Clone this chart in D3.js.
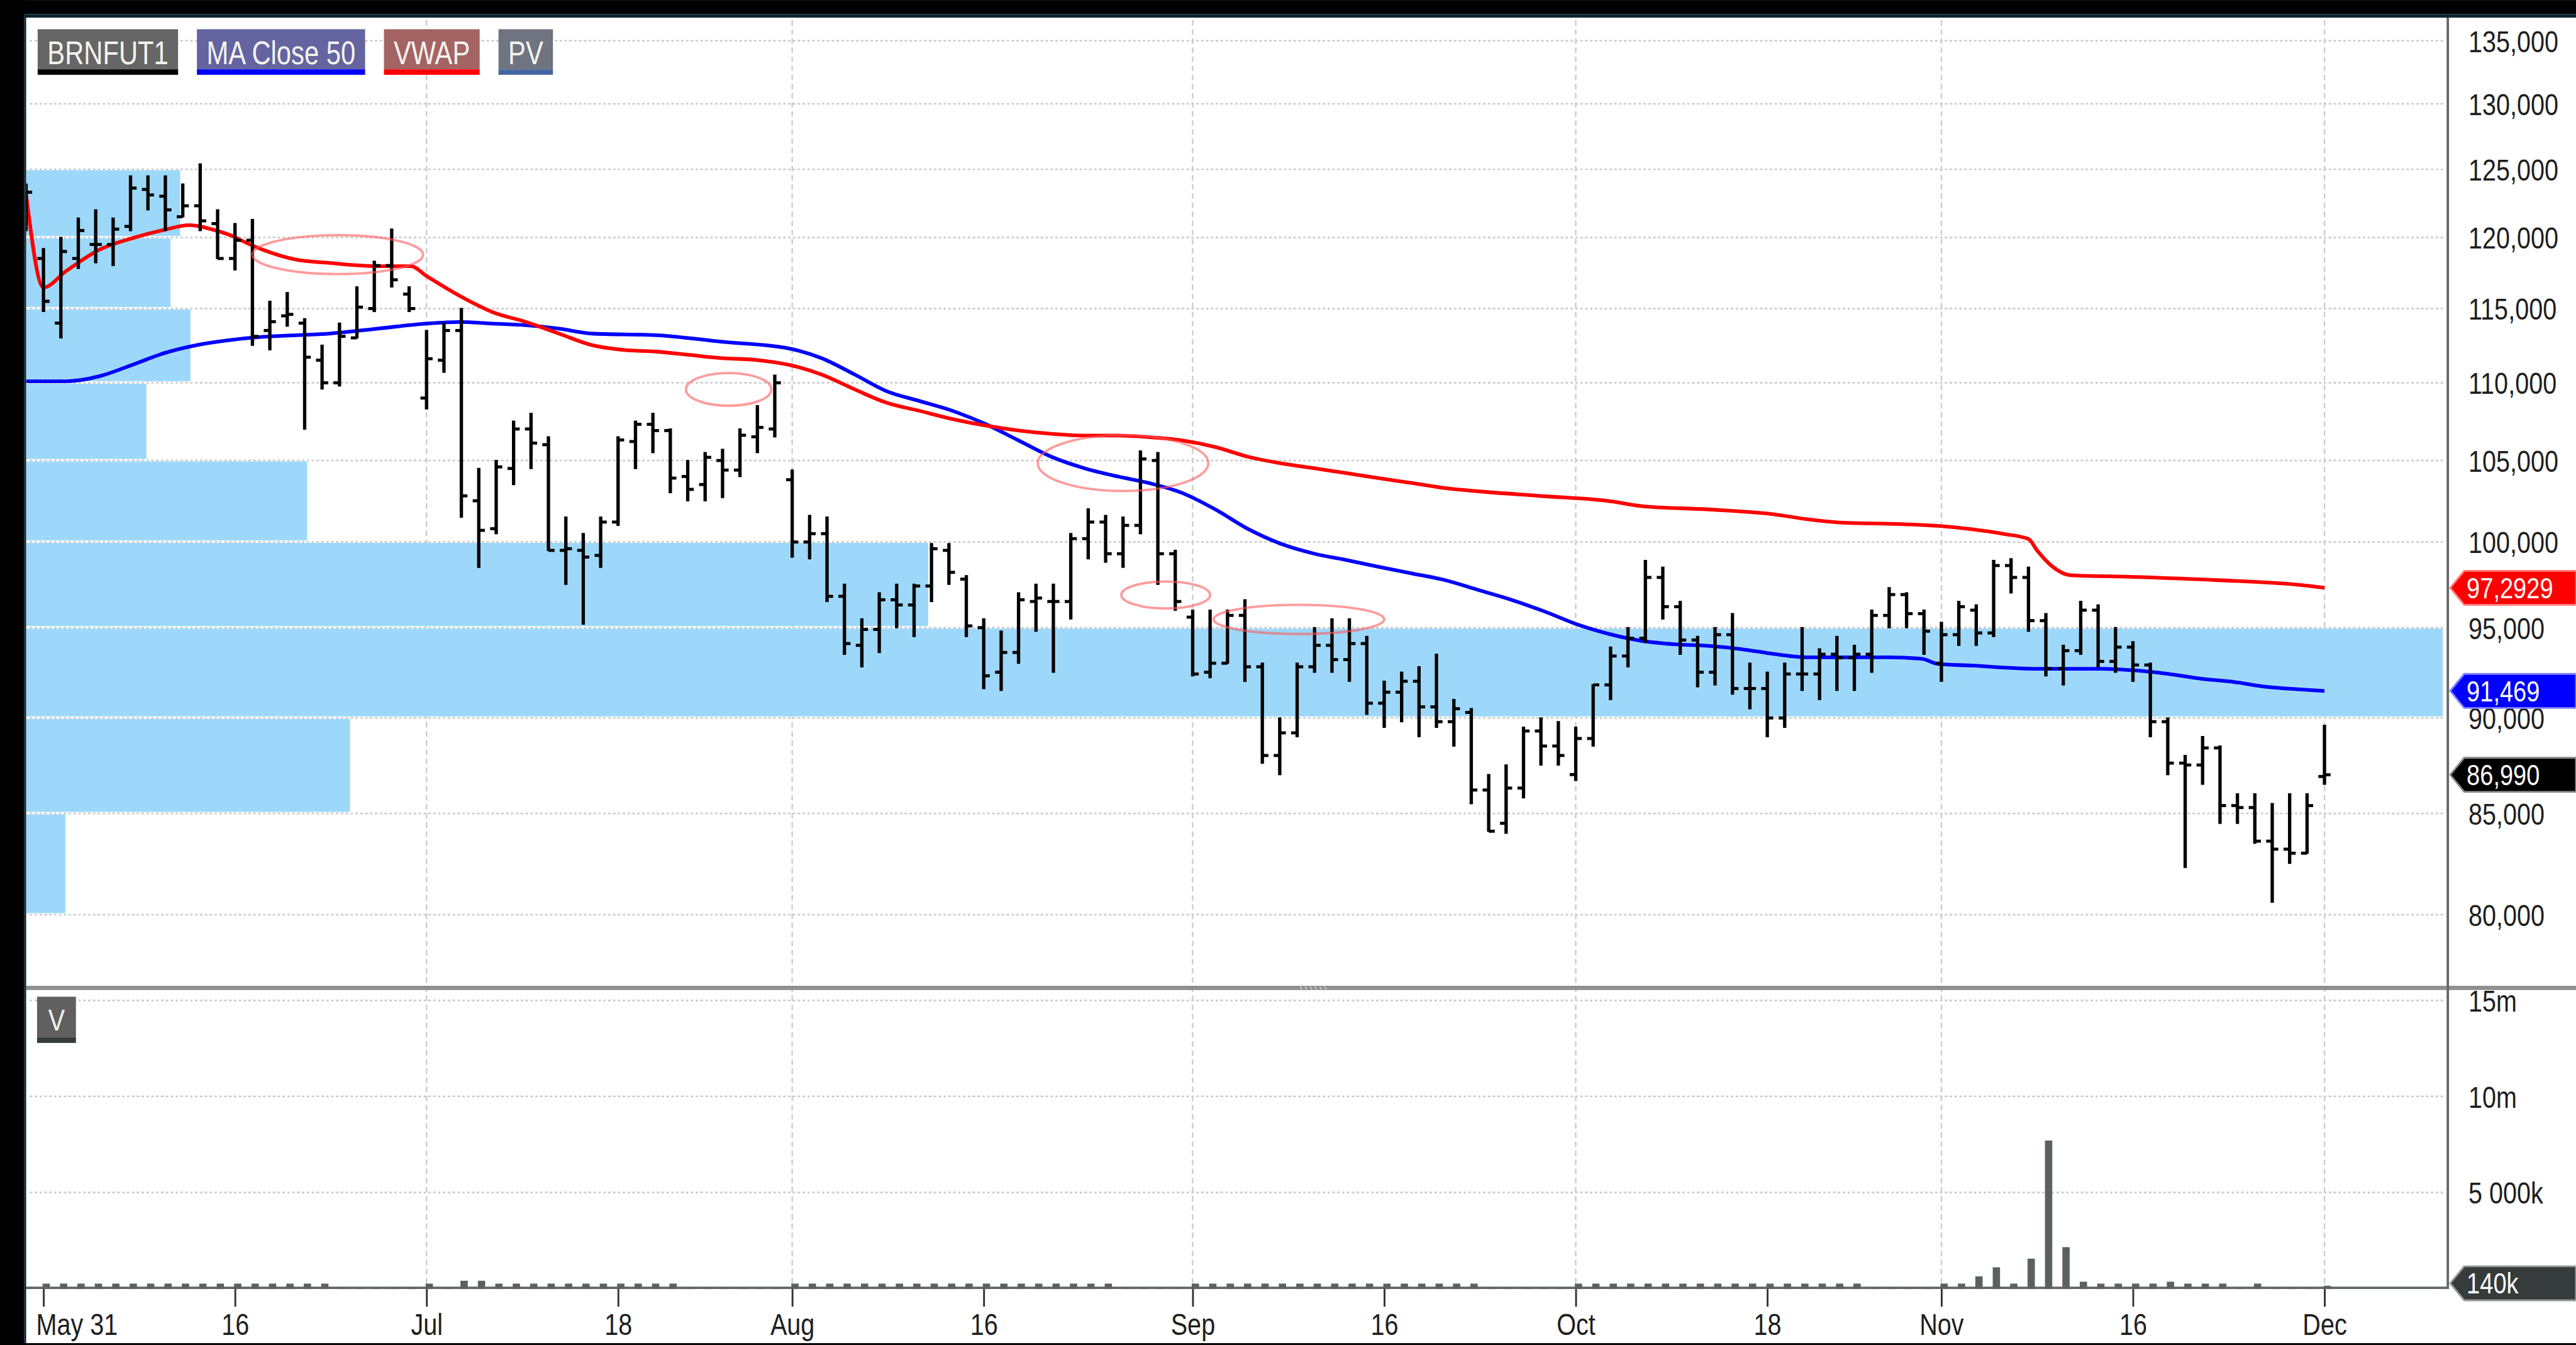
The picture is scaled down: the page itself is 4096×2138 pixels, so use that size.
<!DOCTYPE html>
<html><head><meta charset="utf-8">
<script src="https://cdn.jsdelivr.net/npm/d3@7/dist/d3.min.js"></script>
<style>html,body{margin:0;padding:0;background:#fff;overflow:hidden;}svg{display:block}</style>
</head><body>
<script>
// ---------------- DATA ----------------
const dates = ["2022-05-30","2022-05-31",
"2022-06-01","2022-06-02","2022-06-06","2022-06-07","2022-06-08","2022-06-09","2022-06-10","2022-06-13","2022-06-14","2022-06-15","2022-06-16","2022-06-17","2022-06-20","2022-06-21","2022-06-22","2022-06-23","2022-06-24","2022-06-27","2022-06-28","2022-06-29","2022-06-30",
"2022-07-01","2022-07-04","2022-07-05","2022-07-06","2022-07-07","2022-07-08","2022-07-11","2022-07-12","2022-07-13","2022-07-14","2022-07-15","2022-07-18","2022-07-19","2022-07-20","2022-07-21","2022-07-22","2022-07-25","2022-07-26","2022-07-27","2022-07-28","2022-07-29",
"2022-08-01","2022-08-02","2022-08-03","2022-08-04","2022-08-05","2022-08-08","2022-08-09","2022-08-10","2022-08-11","2022-08-12","2022-08-15","2022-08-16","2022-08-17","2022-08-18","2022-08-19","2022-08-22","2022-08-23","2022-08-24","2022-08-25","2022-08-26","2022-08-29","2022-08-30","2022-08-31",
"2022-09-01","2022-09-02","2022-09-05","2022-09-06","2022-09-07","2022-09-08","2022-09-09","2022-09-12","2022-09-13","2022-09-14","2022-09-15","2022-09-16","2022-09-19","2022-09-20","2022-09-21","2022-09-22","2022-09-23","2022-09-26","2022-09-27","2022-09-28","2022-09-29","2022-09-30",
"2022-10-03","2022-10-04","2022-10-05","2022-10-06","2022-10-07","2022-10-10","2022-10-11","2022-10-12","2022-10-13","2022-10-14","2022-10-17","2022-10-18","2022-10-19","2022-10-20","2022-10-21","2022-10-24","2022-10-25","2022-10-26","2022-10-27","2022-10-28","2022-10-31",
"2022-11-01","2022-11-02","2022-11-03","2022-11-04","2022-11-07","2022-11-08","2022-11-09","2022-11-10","2022-11-11","2022-11-14","2022-11-15","2022-11-16","2022-11-17","2022-11-18","2022-11-21","2022-11-22","2022-11-23","2022-11-24","2022-11-25","2022-11-28","2022-11-29","2022-11-30",
"2022-12-01"];

const open = [121000,118500,114000,118500,119500,119500,120800,123500,123000,121500,
122300,121000,118500,119800,113500,114500,114000,111500,110000,113000,
115000,118000,116000,109000,111500,113500,102500,100800,104500,107000,
106000,99500,99500,99200,101200,106200,107300,106900,104000,103500,
105000,104400,106500,107000,103800,100000,100500,96800,94000,94900,
96600,96300,97400,99500,97800,95000,92500,93600,96500,96500,
96500,100200,101200,99300,101000,105000,99300,95600,92500,93000,
95700,92800,88000,89200,92800,94000,93200,94100,90800,91400,
92000,90600,89800,90300,86200,84500,86300,89300,88500,87000,
88900,91800,93400,94400,97900,96200,94300,92500,94600,91600,
91600,90000,92400,92400,93500,93300,93500,95700,96900,95800,
93000,94600,96000,94700,98600,97900,95400,92700,93700,96000,
93100,93900,92900,89800,87600,87500,88400,85400,85300,83600,
83200,83000,86900];
const high = [123900,119200,120000,121400,122000,121400,124500,124500,124500,123900,
125400,122000,121000,121300,115500,116100,114300,112500,114000,116500,
118300,120600,116500,113500,114000,115000,104500,105000,107500,108000,
106500,101500,100500,101500,106500,107500,108000,107000,105000,105500,
105700,107000,108500,110500,104400,101600,101500,97500,95500,97000,
97500,97500,99900,99900,98000,95500,94800,97000,97500,97500,
100500,102000,101600,101500,105600,105500,99500,96000,96000,96000,
96600,93000,90000,93000,95000,95500,95500,94500,92000,92500,
92800,93500,91000,90500,87000,87500,89500,90000,89800,89500,
91800,93900,95000,98900,98500,96500,94500,95000,95800,93000,
92500,93000,95000,93800,94500,94000,96000,97300,97000,96000,
95300,96500,96300,98900,99000,98500,95800,94000,96500,96300,
95000,94200,93000,90000,88000,89000,88500,86000,86000,85500,
86000,86000,89600];
const low = [120500,114800,113000,117800,118200,118000,120500,122000,120500,121500,
120500,118500,117700,112500,112200,113800,107000,109600,109800,113000,
114800,116500,114800,108300,110700,101500,98500,100500,103500,104500,
99500,97500,95200,98500,101000,104500,105500,103000,102500,102500,
102700,104000,105500,106500,99100,99000,96500,93500,92800,93600,
95000,94500,96500,97500,94500,91600,91500,93000,94800,92500,
95500,99000,98800,98500,100500,97500,96000,92300,92200,93000,
92000,87600,87000,89000,92500,92500,92000,90200,89500,89800,
89000,89500,88500,85500,84100,84000,85800,87500,87500,86700,
88500,91000,92800,94200,95500,93500,91700,91800,91300,90500,
89000,89500,91500,91000,91500,91500,92500,95000,95000,93500,
92000,94000,94000,94500,97000,94800,92300,91800,93500,92800,
92500,92000,89000,87000,82300,86500,84500,84500,83500,80600,
82500,83000,86500];
const close = [123300,115500,119000,120500,119500,120600,123600,123100,122000,122300,
121200,118500,119800,113100,114100,114600,111700,110000,113100,115100,
118000,117000,115000,111600,113500,102800,100700,104600,107000,106100,
99500,99600,99100,101200,106300,107300,106900,103900,103200,105200,
104400,106600,107100,110000,100000,100500,96800,94100,94900,96600,
96300,97400,99600,98200,95100,92300,93600,96600,96700,96500,
100200,101200,99300,101000,105100,99300,96500,92400,93000,95700,
92800,88000,89200,92800,94000,93200,94100,90800,91400,92000,
90600,89800,90500,86200,84100,86300,89300,88500,88000,88900,
91800,93400,94400,97900,96200,94300,92500,94600,91600,91600,
90000,92400,92400,93500,93300,93500,95700,96900,95800,94800,
94600,96200,94700,98600,97900,95400,92700,93700,96000,93100,
93900,92900,89800,87600,87500,88400,85400,85300,83600,83200,
83000,85400,86990];
const volume = [60000,250000,250000,250000,250000,250000,250000,250000,250000,250000,
250000,250000,250000,250000,250000,250000,250000,250000,60000,60000,
60000,60000,60000,250000,60000,400000,400000,250000,250000,250000,
250000,250000,250000,250000,250000,250000,250000,250000,60000,60000,
60000,60000,60000,60000,250000,250000,250000,250000,250000,250000,
250000,250000,250000,250000,250000,250000,250000,250000,250000,250000,
250000,250000,250000,60000,60000,60000,60000,250000,250000,250000,
250000,250000,250000,250000,250000,250000,250000,250000,250000,250000,
250000,250000,250000,250000,60000,60000,60000,60000,60000,250000,
250000,250000,250000,250000,250000,250000,250000,250000,250000,250000,
250000,250000,250000,250000,250000,250000,60000,60000,60000,60000,
250000,250000,630000,1100000,250000,1550000,7700000,2150000,350000,250000,
250000,250000,250000,350000,250000,250000,250000,60000,250000,60000,
60000,60000,140000];

// MA Close 50 (bar position, value)
const maPos = [0,2.3,4.2,6.1,7.9,9.8,11.7,13.6,15.5,17.4,20.2,23.0,24.9,26.8,28.7,30.6,32.5,36.2,40.0,43.8,45.7,47.6,49.4,51.3,53.2,55.1,57.0,58.9,60.8,62.7,64.5,66.4,68.3,70.2,72.1,74.0,75.9,77.7,79.6,81.5,83.4,85.3,87.2,89.1,91.0,92.8,94.7,96.6,98.5,100.4,102.3,107.0,108.9,109.8,111.7,115.5,119.3,121.1,123.0,124.9,126.8,128.7,130.6,132];
const maVal = [110100,110100,110430,111190,111960,112510,112850,113070,113180,113290,113630,113970,114080,113970,113860,113630,113290,113180,112730,112290,111630,110540,109460,108810,108170,107320,106270,105230,104510,104000,103590,102980,101970,100770,99880,99300,98910,98520,98130,97740,97170,96600,95930,95180,94620,94250,94060,93970,93790,93510,93330,93330,93240,92960,92870,92690,92690,92600,92410,92140,91960,91690,91550,91469];
// VWAP
const vwapPos = [0,1,2.3,4.2,6.1,7.9,9.4,10.8,11.7,12.7,13.6,15.5,17.4,20.2,22.1,23.0,24.9,26.8,28.7,30.6,32.5,34.4,36.2,38.1,40.0,41.9,43.8,45.7,47.6,49.4,51.3,53.2,55.1,57.0,58.9,60.8,62.7,64.5,66.4,68.3,70.2,72.1,74.0,75.9,77.7,79.6,81.5,83.4,87.2,91.0,92.8,96.6,100.4,102.3,104.2,107.9,109.8,111.7,113.6,115.0,115.5,116.4,117.4,121.1,125.9,130.6,132];
const vwapVal = [123170,116460,117610,119120,119950,120540,120890,120540,120180,119590,119120,118420,118190,117960,117960,117260,115880,114750,114080,113290,112510,112180,112070,111850,111630,111520,111190,110540,109560,108700,108170,107640,107220,106900,106690,106580,106580,106480,106270,105850,105230,104820,104510,104200,103890,103590,103280,103080,102780,102470,102170,101970,101670,101370,101170,101070,100970,100770,100480,100180,99490,98520,98030,97930,97740,97460,97292.9];

// Volume profile (PV): price bands and volume traded in each (millions, estimated)
const pvLow    = [120000,115000,110000,105000,100000,95000,90000,85000,80000];
const pvHigh   = [125000,120000,115000,110000,105000,100000,95000,90000,85000];
const pvVolume = [2.55,2.39,2.72,1.99,4.65,14.93,40.0,5.36,0.65];

const priceTicks = [80000,85000,90000,95000,100000,105000,110000,115000,120000,125000,130000,135000];
const volTicks = [5000000,10000000,15000000];
const volTickLabels = ["5 000k","10m","15m"];
const tickDates  = ["2022-05-31","2022-06-16","2022-07-01","2022-07-18","2022-08-01","2022-08-16","2022-09-01","2022-09-16","2022-10-01","2022-10-18","2022-11-01","2022-11-16","2022-12-01"];
const tickLabels = ["May 31","16","Jul","18","Aug","16","Sep","16","Oct","18","Nov","16","Dec"];
const monthStart = [false,false,true,false,true,false,true,false,true,false,true,false,true];

const legendNames = ["BRNFUT1","MA Close 50","VWAP","PV"];
const lastClose = 86990, lastMA = 91469, lastVWAP = 97292.9, lastVolume = 140000;
const lastTexts = {vwap:"97,2929", ma:"91,469", close:"86,990", vol:"140k"};

// hand-drawn annotation ellipses (bar position range, price range)
const annoStart = [13.0,37.9,58.1,62.9,68.2];
const annoEnd   = [22.8,42.8,67.9,68.0,78.0];
const annoLow   = [117400,108500,103100,96100,94640];
const annoHigh  = [120170,110650,106600,97660,96310];

// ---------------- LAYOUT ----------------
const W = 4240, H = 2213;
const L = 43, R = 4029, PT = 29, PB = 1622, VT = 1630, VB = 2120;
const FONT = "'Liberation Sans', Arial, 'DejaVu Sans', sans-serif";

const svg = d3.select("body").append("svg")
  .attr("width", 4096).attr("height", 2138)
  .attr("viewBox", `0 0 ${W} ${H}`);

const x  = d3.scaleLinear().domain([0, 132]).range([42.9, 3826]);
const y  = d3.scaleLog().domain([80000, 135000]).range([1505, 67]);
const yv = d3.scaleLinear().domain([0, 15000000]).range([2120, 1646]);
const xpv = d3.scaleLinear().domain([0, d3.max(pvVolume)]).range([L, 4021]);

function ctext(g, tx, ty, str, size, anchor, fill, sx) {
  return g.append("text")
    .attr("transform", `translate(${tx},${ty}) scale(${sx || 0.82},1)`)
    .attr("text-anchor", anchor).attr("font-family", FONT)
    .attr("font-size", size).attr("fill", fill).text(str);
}

svg.append("rect").attr("width", W).attr("height", H).attr("fill", "#ffffff");

const defs = svg.append("defs");
defs.append("clipPath").attr("id", "cp").append("rect")
  .attr("x", L).attr("y", PT).attr("width", R - L).attr("height", PB - PT);
defs.append("clipPath").attr("id", "cv").append("rect")
  .attr("x", L).attr("y", VT).attr("width", R - L).attr("height", VB - VT + 2);

const tickIdx = tickDates.map(t => dates.findIndex(d => d >= t));

// ---- gridlines ----
const grid = svg.append("g");
grid.selectAll("line.hp").data(priceTicks).join("line")
  .attr("x1", L + 6).attr("x2", 4023)
  .attr("y1", d => y(d)).attr("y2", d => y(d))
  .attr("stroke", "#c8c8c8").attr("stroke-width", 2.5).attr("stroke-dasharray", "4,4");
grid.selectAll("line.hv").data(volTicks).join("line")
  .attr("x1", L + 6).attr("x2", 4023)
  .attr("y1", d => yv(d)).attr("y2", d => yv(d))
  .attr("stroke", "#c8c8c8").attr("stroke-width", 2.5).attr("stroke-dasharray", "4,4");
grid.selectAll("line.vg").data(tickIdx.filter((d, i) => monthStart[i])).join("line")
  .attr("x1", d => x(d)).attr("x2", d => x(d))
  .attr("y1", PT + 4).attr("y2", VB)
  .attr("stroke", "#cdcdcd").attr("stroke-width", 2.5).attr("stroke-dasharray", "9,6");

// ---- price panel ----
const pp = svg.append("g").attr("clip-path", "url(#cp)");
pp.selectAll("rect.pv").data(pvVolume).join("rect")
  .attr("x", L).attr("width", d => xpv(d) - L)
  .attr("y", (d, i) => y(pvHigh[i]) + 1.5)
  .attr("height", (d, i) => y(pvLow[i]) - y(pvHigh[i]) - 4)
  .attr("fill", "#9dd8fa");

const line = d3.line().curve(d3.curveMonotoneX);
pp.append("path").attr("d", line(maPos.map((p, i) => [x(p), y(maVal[i])])))
  .attr("fill", "none").attr("stroke", "#0000ff").attr("stroke-width", 6);
pp.append("path").attr("d", line(vwapPos.map((p, i) => [x(p), y(vwapVal[i])])))
  .attr("fill", "none").attr("stroke", "#ff0000").attr("stroke-width", 6);

const bars = pp.append("g").attr("stroke", "#000").attr("stroke-width", 5);
dates.forEach((d, i) => {
  const cx = x(i);
  bars.append("line").attr("x1", cx).attr("x2", cx).attr("y1", y(high[i]) - 1).attr("y2", y(low[i]) + 1).attr("stroke-width", 5.5);
  bars.append("line").attr("x1", cx - 10).attr("x2", cx).attr("y1", y(open[i])).attr("y2", y(open[i]));
  bars.append("line").attr("x1", cx).attr("x2", cx + 10).attr("y1", y(close[i])).attr("y2", y(close[i]));
});

pp.selectAll("ellipse").data(annoStart).join("ellipse")
  .attr("cx", (d, i) => (x(d) + x(annoEnd[i])) / 2)
  .attr("rx", (d, i) => (x(annoEnd[i]) - x(d)) / 2)
  .attr("cy", (d, i) => (y(annoLow[i]) + y(annoHigh[i])) / 2)
  .attr("ry", (d, i) => (y(annoLow[i]) - y(annoHigh[i])) / 2)
  .attr("fill", "none").attr("stroke", "#ff5a5a").attr("stroke-opacity", 0.6).attr("stroke-width", 4);

// ---- volume panel ----
svg.append("line").attr("x1", L).attr("x2", R).attr("y1", 2119).attr("y2", 2119)
  .attr("stroke", "#5f6565").attr("stroke-width", 4);
const vp = svg.append("g").attr("clip-path", "url(#cv)");
vp.selectAll("rect").data(volume).join("rect")
  .attr("x", (d, i) => x(i) - 1.5).attr("width", 12)
  .attr("y", d => yv(d)).attr("height", d => 2121 - yv(d))
  .attr("fill", "#5b6060");

// separator
svg.append("rect").attr("x", L).attr("y", PB).attr("width", W - L).attr("height", 7).attr("fill", "#8f8f8f");
[0, 1, 2, 3, 4, 5].forEach(k => svg.append("line")
  .attr("x1", 2140 + k * 8).attr("x2", 2143 + k * 8).attr("y1", PB + 1).attr("y2", PB + 6)
  .attr("stroke", "#d8d8d8").attr("stroke-width", 1.5));

// right axis line
svg.append("line").attr("x1", R).attr("x2", R).attr("y1", 23).attr("y2", 2121)
  .attr("stroke", "#636868").attr("stroke-width", 4);

// ---- axes ----
const xAxis = d3.axisBottom(x).tickValues(tickIdx).tickSize(29).tickPadding(0)
  .tickFormat((d, i) => tickLabels[i]);
const gx = svg.append("g").attr("transform", "translate(0,2121)").call(xAxis);
gx.select(".domain").remove();
gx.selectAll(".tick line").attr("stroke", "#333").attr("stroke-width", 3);
gx.selectAll(".tick text").attr("font-family", FONT).attr("font-size", 50).attr("fill", "#1e1e1e")
  .attr("y", 76).attr("dy", 0).attr("transform", "scale(0.82,1)");
// keep the first label inside the plot frame (as the reference does)
gx.selectAll(".tick text").each(function (d) {
  const w = this.getComputedTextLength() * 0.82;
  if (x(d) - w / 2 < L + 16) {
    d3.select(this).attr("text-anchor", "start").attr("x", (L + 16 - x(d)) / 0.82);
  }
});

const yAxis = d3.axisRight(y).tickValues(priceTicks).tickSize(0).tickPadding(0).tickFormat(d3.format(","));
const gy = svg.append("g").attr("transform", "translate(4063,0)").call(yAxis);
gy.select(".domain").remove();
gy.selectAll(".tick text").attr("font-family", FONT).attr("font-size", 50).attr("fill", "#1e1e1e")
  .attr("x", 0).attr("dy", 18).attr("transform", "scale(0.82,1)");

const vAxis = d3.axisRight(yv).tickValues(volTicks).tickSize(0).tickPadding(0)
  .tickFormat((d, i) => volTickLabels[i]);
const gv = svg.append("g").attr("transform", "translate(4063,0)").call(vAxis);
gv.select(".domain").remove();
gv.selectAll(".tick text").attr("font-family", FONT).attr("font-size", 50).attr("fill", "#1e1e1e")
  .attr("x", 0).attr("dy", 18).attr("transform", "scale(0.82,1)");

// ---- last value labels ----
function tag(yc, txt, fill, stroke) {
  const g = svg.append("g");
  g.append("path")
    .attr("d", `M4033,${yc} L4056,${yc - 28} L4240,${yc - 28} L4240,${yc + 28} L4056,${yc + 28} Z`)
    .attr("fill", fill).attr("stroke", stroke).attr("stroke-width", 3);
  ctext(g, 4060, yc + 17, txt, 48, "start", "#ffffff");
}
tag(y(lastVWAP), lastTexts.vwap, "#ff0000", "#ff8080");
tag(y(lastMA), lastTexts.ma, "#0000ff", "#8080ff");
tag(y(lastClose), lastTexts.close, "#000000", "#8a8a8a");
tag(yv(lastVolume) - 4, lastTexts.vol, "#363b3b", "#9a9a9a");

// ---- legend ----
const legFill  = ["#666666", "#6464a0", "#a46464", "#6f7480"];
const legUnder = ["#000000", "#0000ff", "#ff0000", "#4466a0"];
let lx = 62;
legendNames.forEach((name, i) => {
  const g = svg.append("g");
  const r = g.append("rect").attr("x", lx).attr("y", 48).attr("height", 66).attr("fill", legFill[i]);
  const u = g.append("rect").attr("x", lx).attr("y", 114).attr("height", 9).attr("fill", legUnder[i]);
  const t = ctext(g, lx + 16, 105, name, 54, "start", "#f4f4ee", 0.8);
  const w = t.node().getComputedTextLength() * 0.8 + 32;
  r.attr("width", w); u.attr("width", w);
  lx += w + 31;
});

// V label in volume panel
const vg = svg.append("g");
vg.append("rect").attr("x", 61).attr("y", 1640).attr("width", 64).attr("height", 67).attr("fill", "#606060");
vg.append("rect").attr("x", 61).attr("y", 1707).attr("width", 64).attr("height", 9).attr("fill", "#333a3a");
ctext(vg, 93, 1696, "V", 50, "middle", "#f4f4ee", 0.82);

// ---- frame ----
svg.append("rect").attr("x", 0).attr("y", 0).attr("width", W).attr("height", 23).attr("fill", "#000");
svg.append("rect").attr("x", 40).attr("y", 23).attr("width", W - 40).attr("height", 6).attr("fill", "#0c2731");
svg.append("rect").attr("x", 0).attr("y", 0).attr("width", 40).attr("height", H).attr("fill", "#000");
svg.append("rect").attr("x", 40).attr("y", 23).attr("width", 3).attr("height", H - 23).attr("fill", "#0c2731");
svg.append("rect").attr("x", 0).attr("y", 2210).attr("width", W).attr("height", 3).attr("fill", "#000");
</script>
</body></html>
